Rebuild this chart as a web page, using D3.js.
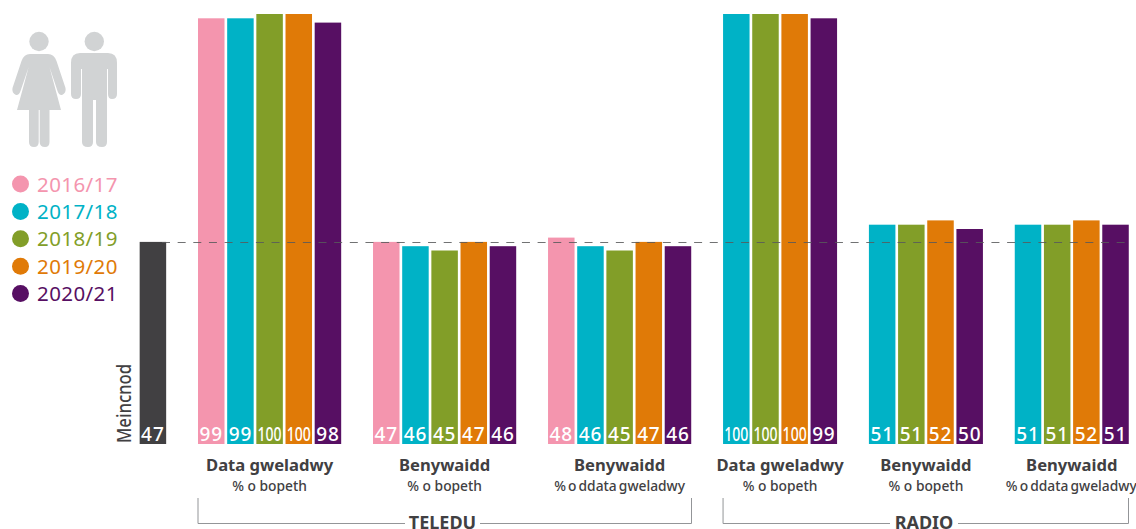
<!DOCTYPE html>
<html>
<head>
<meta charset="utf-8">
<script src="https://cdnjs.cloudflare.com/ajax/libs/d3/7.8.5/d3.min.js"></script>
<style>
html,body{margin:0;padding:0;background:#fff;}
svg{display:block;}
text{font-family:"Noto Sans",sans-serif;}
</style>
</head>
<body>
<svg id="chart" width="1136" height="529"></svg>
<script>
const years = ["2016/17","2017/18","2018/19","2019/20","2020/21"];
const yearColors = ["#f495ae","#00b2c6","#829e28","#e07a07","#570f63"];

const benchmarkLabel = "Meincnod";
const benchmarkValue = 47;

const groupTitles = ["Data gweladwy","Benywaidd","Benywaidd","Data gweladwy","Benywaidd","Benywaidd"];
const groupSubtitles = ["% o bopeth","% o bopeth","% o ddata gweladwy","% o bopeth","% o bopeth","% o ddata gweladwy"];

// Values per group; null means the measure was not reported that year.
const dataGweladwyTv = [99,99,100,100,98];
const benywaiddTv = [47,46,45,47,46];
const benywaiddDataTv = [48,46,45,47,46];
const dataGweladwyRadio = [null,100,100,100,99];
const benywaiddRadio = [null,51,51,52,50];
const benywaiddDataRadio = [null,51,51,52,51];
const groupValues = [dataGweladwyTv,benywaiddTv,benywaiddDataTv,dataGweladwyRadio,benywaiddRadio,benywaiddDataRadio];

// Slot on the shared bar grid where each group's first bar would sit.
const groupSlots = [0,6,12,17,22,27];
const benchmarkSlot = -2;
const brackets = [
  {label:"TELEDU", first:0, last:2, x1:691.5, gapLeft:405, gapRight:480},
  {label:"RADIO", first:3, last:5, x1:1128.5, gapLeft:890, gapRight:958}
];

const svg = d3.select("#chart");
const y = d3.scaleLinear().domain([0,100]).range([444,14]);
const slotX = d3.scaleLinear().domain([0,1]).range([198,227.17]);
const barWidth = 26.5;
const textDark = "#414042";

// Benchmark bar
svg.append("rect")
  .attr("x",slotX(benchmarkSlot)).attr("y",y(benchmarkValue))
  .attr("width",barWidth).attr("height",y(0)-y(benchmarkValue))
  .attr("fill","#414042");
svg.append("text")
  .attr("x",slotX(benchmarkSlot)+barWidth/2).attr("y",441)
  .attr("text-anchor","middle").attr("fill","#fff")
  .attr("font-size",19).attr("font-weight",500).attr("letter-spacing",1).text(benchmarkValue);
svg.append("text")
  .attr("transform",`translate(131,443) rotate(-90) scale(0.88,1)`)
  .attr("fill",textDark).attr("font-size",19).attr("font-weight",500).text(benchmarkLabel);

// Bars and value labels for each group; three-digit labels are narrowed to fit the bar
const cells = svg.selectAll("g.group")
  .data(groupValues).join("g").attr("class","group")
  .selectAll("g.cell")
  .data((vals,g)=>vals.map((v,i)=>({v,i,g})).filter(c=>c.v!==null))
  .join("g").attr("class","cell");
cells.append("rect")
  .attr("x",d=>slotX(groupSlots[d.g]+d.i))
  .attr("y",d=>y(d.v))
  .attr("width",barWidth)
  .attr("height",d=>y(0)-y(d.v))
  .attr("fill",d=>yearColors[d.i]);
cells.append("text")
  .attr("transform",d=>`translate(${slotX(groupSlots[d.g]+d.i)+barWidth/2},441) scale(${d.v===100?0.74:1},1)`)
  .attr("text-anchor","middle")
  .attr("fill","#fff")
  .attr("font-size",19)
  .attr("font-weight",500)
  .attr("letter-spacing",d=>d.v===100?0:0.8)
  .text(d=>d.v);

// Dashed benchmark line across every bar
const dashY = Math.round(y(benchmarkValue)) + 0.5;
svg.append("line")
  .attr("x1",162).attr("x2",1130)
  .attr("y1",dashY).attr("y2",dashY)
  .attr("stroke","#58595b").attr("stroke-opacity",0.85)
  .attr("stroke-width",1).attr("stroke-dasharray","8 7.65");

// Group captions centred under their bars
const groupCentre = g => {
  const idx = groupValues[g].map((v,i)=>v===null?-1:i).filter(i=>i>=0);
  return (slotX(groupSlots[g]+idx[0]) + slotX(groupSlots[g]+idx[idx.length-1]) + barWidth)/2;
};
groupTitles.forEach((t,g)=>{
  svg.append("text").attr("x",groupCentre(g)).attr("y",471)
    .attr("text-anchor","middle").attr("fill",textDark)
    .attr("font-size",16.6).attr("font-weight",700).text(t);
  const wide = groupSubtitles[g].length > 12;
  svg.append("text").attr("x",groupCentre(g)+(g===5?-0.5:0)).attr("y",491)
    .attr("text-anchor","middle").attr("fill",textDark)
    .attr("font-size",13.8).attr("font-weight",500)
    .attr("word-spacing",wide?-1.5:0)
    .text(groupSubtitles[g]);
});

// Brackets naming the medium under each set of groups
brackets.forEach(b=>{
  const x0 = slotX(groupSlots[b.first]+(groupValues[b.first][0]===null?1:0));
  svg.append("path")
    .attr("d",d3.line()([[b.gapLeft,523.5],[x0,523.5],[x0,498]]))
    .attr("fill","none").attr("stroke","#939598").attr("stroke-width",1);
  svg.append("path")
    .attr("d",d3.line()([[b.gapRight,523.5],[b.x1,523.5],[b.x1,498]]))
    .attr("fill","none").attr("stroke","#939598").attr("stroke-width",1);
  svg.append("text").attr("x",(b.gapLeft+b.gapRight)/2).attr("y",528.5)
    .attr("text-anchor","middle").attr("fill",textDark)
    .attr("font-size",18).attr("font-weight",700).text(b.label);
});

// Legend
const legend = svg.selectAll("g.legend").data(years).join("g").attr("class","legend")
  .attr("transform",(d,i)=>`translate(0,${184+i*27.4})`);
legend.append("circle").attr("cx",20.5).attr("cy",0).attr("r",8.5).attr("fill",(d,i)=>yearColors[i]);
legend.append("text").attr("x",37).attr("y",7.5).attr("font-size",20.5).attr("letter-spacing",0.4)
  .attr("fill",(d,i)=>yearColors[i]).text(d=>d);

// Woman and man pictograms
const people = svg.append("g").attr("fill","#d1d3d4");
people.append("circle").attr("cx",39).attr("cy",41.5).attr("r",9.7);
people.append("path").attr("d","M30,54 H48 Q54,54 56.5,61 L65.5,88 Q66.5,93 62,95 Q59,95.5 57.5,91 L49.5,67 L61,110 H49.5 V142 Q49.5,147 45,147 Q39.7,147 39.7,142 V110 H38.7 V142 Q38.7,147 34,147 Q29,147 29,142 V110 H17 L28.7,67 L20.5,91 Q19,95.5 16,95 Q11.5,93 12.5,88 L21.5,61 Q24,54 30,54 Z");
people.append("circle").attr("cx",94.3).attr("cy",41.5).attr("r",9.7);
people.append("path").attr("d","M80,53 H108 Q117,53 117,63 V94 Q117,99 112,99 Q108,99 108,94 V69 H107 V142 Q107,147 102,147 Q96,147 96,142 V100 H93 V142 Q93,147 88,147 Q82,147 82,142 V69 H81 V94 Q81,99 76,99 Q71,99 71,94 V63 Q71,53 80,53 Z");
</script>
</body>
</html>
